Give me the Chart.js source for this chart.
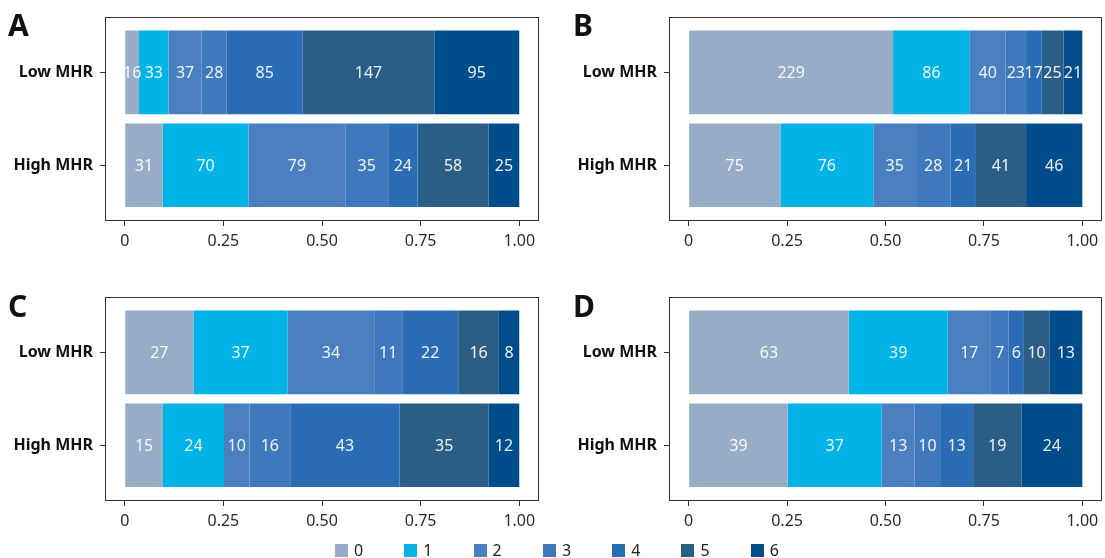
<!DOCTYPE html>
<html>
<head>
<meta charset="utf-8">
<script src="https://cdn.jsdelivr.net/npm/chart.js@4"></script>
<style>
  body { margin: 0; background: #fff; font-family: "Noto Sans", sans-serif; }
  #wrap { position: relative; width: 1105px; height: 558px; overflow: hidden; }
  canvas { position: absolute; }
  .tag { position: absolute; font-size: 30px; font-weight: bold; color: #111; line-height: 30px; }
  #legend { position: absolute; left: 335px; top: 541px; height: 18px; display: flex; }
  #legend .item { width: 69.3px; display: flex; align-items: center; font-size: 16px; color: #222; }
  #legend .sw { width: 13px; height: 13px; margin-right: 6px; }
</style>
</head>
<body>
<div id="wrap">
  <canvas id="chartA" width="552" height="262" style="left:0;top:0"></canvas>
  <canvas id="chartB" width="553" height="262" style="left:552px;top:0"></canvas>
  <canvas id="chartC" width="552" height="262" style="left:0;top:280px"></canvas>
  <canvas id="chartD" width="553" height="262" style="left:552px;top:280px"></canvas>
  <div class="tag" style="left:8px;top:10px">A</div>
  <div class="tag" style="left:573px;top:10px">B</div>
  <div class="tag" style="left:8px;top:291px">C</div>
  <div class="tag" style="left:573px;top:291px">D</div>
  <div id="legend"></div>
</div>
<script>
// categories
const levels = ["0", "1", "2", "3", "4", "5", "6"];
const groups = ["Low MHR", "High MHR"];
const xTicks = [0, 0.25, 0.5, 0.75, 1];

// counts per level (0..6)
const aLow = [16, 33, 37, 28, 85, 147, 95];
const aHigh = [31, 70, 79, 35, 24, 58, 25];
const bLow = [229, 86, 40, 23, 17, 25, 21];
const bHigh = [75, 76, 35, 28, 21, 41, 46];
const cLow = [27, 37, 34, 11, 22, 16, 8];
const cHigh = [15, 24, 10, 16, 43, 35, 12];
const dLow = [63, 39, 17, 7, 6, 10, 13];
const dHigh = [39, 37, 13, 10, 13, 19, 24];

const colors = ["#97acc6", "#00b3e6", "#4a7fc0", "#3f78bd", "#2b6db4", "#2b5e86", "#014c8a"];
const FONT = "'Noto Sans', sans-serif";

// box around plot area + count labels in the bars
const panelPlugin = {
  id: "panel",
  afterDatasetsDraw(chart) {
    const ctx = chart.ctx;
    ctx.save();
    ctx.font = "16px " + FONT;
    ctx.fillStyle = "rgba(255,255,255,0.92)";
    ctx.textAlign = "center";
    ctx.textBaseline = "middle";
    chart.data.datasets.forEach((ds, i) => {
      chart.getDatasetMeta(i).data.forEach((el, j) => {
        const p = el.getCenterPoint();
        ctx.fillText(String(ds.counts[j]), p.x, p.y + 1);
      });
    });
    ctx.restore();
  },
  afterDraw(chart) {
    const a = chart.chartArea;
    const ctx = chart.ctx;
    ctx.save();
    ctx.strokeStyle = "#333";
    ctx.lineWidth = 1;
    ctx.strokeRect(Math.round(a.left) + 0.5, Math.round(a.top) + 0.5,
      Math.round(a.right - a.left) - 1, Math.round(a.bottom - a.top) - 1);
    ctx.restore();
  }
};

function sum(arr) { return arr.reduce((s, v) => s + v, 0); }

function makePanel(id, low, high, yWidth, rightPad) {
  const lowTotal = sum(low);
  const highTotal = sum(high);
  const datasets = levels.map((lv, k) => ({
    label: lv,
    counts: [low[k], high[k]],
    data: [
      { x: low[k] / lowTotal, y: 2 },
      { x: high[k] / highTotal, y: 1 }
    ],
    backgroundColor: colors[k],
    borderWidth: 0,
    categoryPercentage: 1,
    barPercentage: 0.9
  }));

  new Chart(document.getElementById(id), {
    type: "bar",
    data: { datasets: datasets },
    options: {
      indexAxis: "y",
      responsive: false,
      animation: false,
      devicePixelRatio: 1,
      layout: { padding: { top: 13, right: rightPad, left: 0, bottom: 0 } },
      plugins: { legend: { display: false }, tooltip: { enabled: false } },
      scales: {
        x: {
          type: "linear",
          stacked: true,
          min: -0.05,
          max: 1.05,
          afterBuildTicks(scale) { scale.ticks = xTicks.map(v => ({ value: v })); },
          afterFit(scale) { scale.height = 41; },
          ticks: {
            callback: v => (v === 0 ? "0" : v.toFixed(2)),
            font: { family: FONT, size: 16 },
            color: "#2a2a2a",
            padding: 6,
            maxRotation: 0
          },
          grid: { drawOnChartArea: false, drawTicks: true, tickLength: 5, color: "#333" },
          border: { display: false }
        },
        y: {
          type: "linear",
          stacked: true,
          offset: false,
          min: 0.4,
          max: 2.6,
          afterBuildTicks(scale) { scale.ticks = groups.map((g, i) => ({ value: groups.length - i })); },
          afterFit(scale) { scale.width = yWidth; },
          ticks: {
            callback: v => groups[groups.length - v],
            font: { family: FONT, size: 16, weight: "bold" },
            color: "#111",
            padding: 7
          },
          grid: { offset: false, drawOnChartArea: false, drawTicks: true, tickLength: 5, color: "#333" },
          border: { display: false }
        }
      }
    },
    plugins: [panelPlugin]
  });
}

makePanel("chartA", aLow, aHigh, 105, 13);
makePanel("chartB", bLow, bHigh, 117, 3);
makePanel("chartC", cLow, cHigh, 105, 13);
makePanel("chartD", dLow, dHigh, 117, 3);

// shared legend
const legend = document.getElementById("legend");
levels.forEach((lv, k) => {
  const item = document.createElement("div");
  item.className = "item";
  item.innerHTML = '<span class="sw" style="background:' + colors[k] + '"></span><span>' + lv + "</span>";
  legend.appendChild(item);
});
</script>
</body>
</html>
